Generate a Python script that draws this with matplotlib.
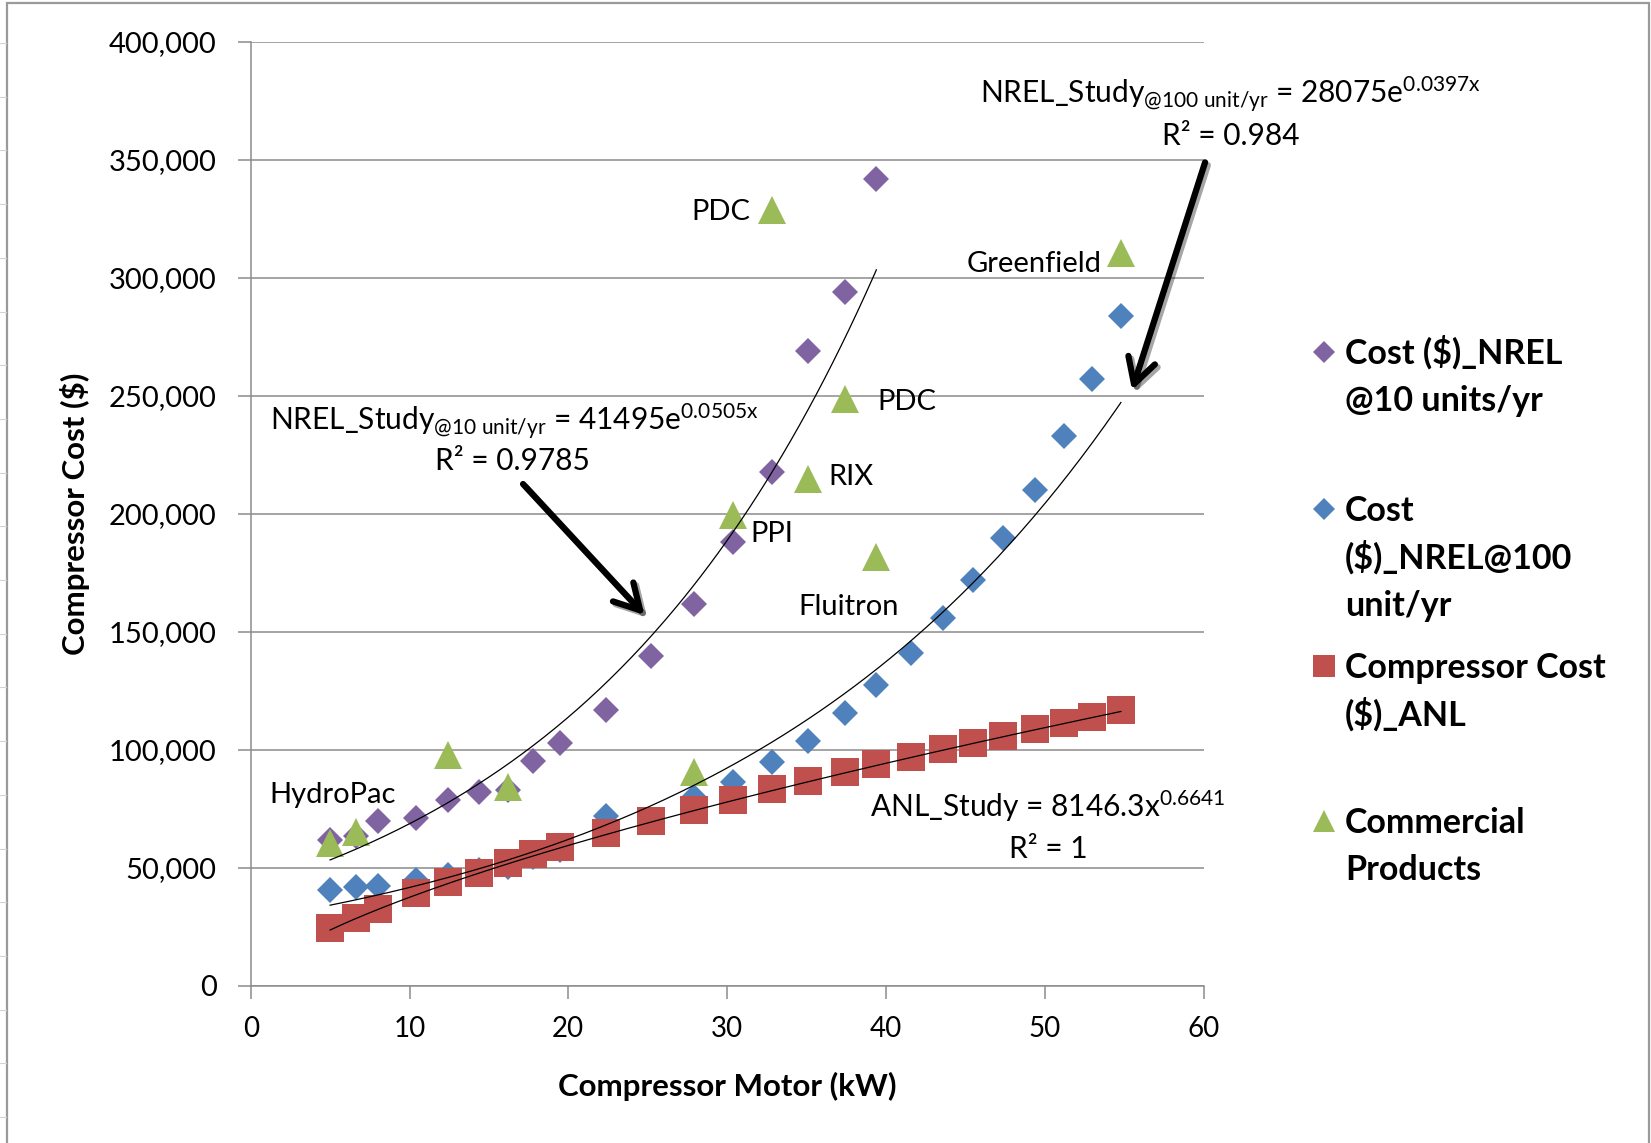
import numpy as np
import matplotlib
matplotlib.use("Agg")
import matplotlib.pyplot as plt
from matplotlib.lines import Line2D
from matplotlib.patches import Rectangle
from matplotlib.ticker import FuncFormatter, MultipleLocator
import matplotlib.patheffects as pe

plt.rcParams["font.family"] = ["Lato", "DejaVu Sans"]
plt.rcParams["mathtext.fontset"] = "custom"
plt.rcParams["mathtext.rm"] = "Lato"
plt.rcParams["mathtext.it"] = "Lato:italic"
plt.rcParams["mathtext.bf"] = "Lato:bold"

# ---- data -------------------------------------------------------------
motor_kw = [5.0, 6.6, 8.0, 10.4, 12.4, 14.4, 16.2, 17.8, 19.5, 22.4, 25.2, 27.9,
            30.4, 32.8, 35.1, 37.4, 39.4, 41.6, 43.6, 45.5, 47.4, 49.4, 51.2,
            53.0, 54.8]

cost_nrel_10 = [62000, 63500, 70000, 71000, 79000, 82000, 83000, 95500, 103000,
                117000, 140000, 162000, 188000, 218000, 269000, 294000, 342000]

cost_nrel_100 = [40700, 42000, 42400, 45000, 47200, 49300, 50400, 54700, 57800,
                 72000, 70000, 80000, 86600, 95000, 103700, 115500, 127500,
                 141000, 156000, 172000, 190000, 210000, 233000, 257000, 284000]

cost_anl = [24400, 28700, 32500, 39300, 44200, 48000, 52200, 55900, 59000, 65000,
            70000, 74600, 78800, 83300, 87000, 90800, 94100, 97200, 100300,
            103100, 105900, 108800, 111300, 114100, 117000]

commercial_kw = [5.0, 6.6, 12.4, 16.2, 27.9, 30.4, 32.8, 35.1, 37.4, 39.4, 54.8]
commercial_cost = [60600, 65400, 97900, 84200, 90500, 199600, 329000, 215000,
                   248600, 181600, 310500]

# fitted trend lines (coefficients as printed on the chart)
fit10_a, fit10_b = 41495, 0.0505
fit100_a, fit100_b = 28075, 0.0397
anl_a, anl_b = 8146.3, 0.6641

# product labels: (text, x, baseline y, alignment)
product_labels = [
    ("HydroPac", 1.2, 77400, "left"),
    ("PDC", 31.45, 324600, "right"),
    ("PDC", 39.45, 244000, "left"),
    ("RIX", 36.4, 212300, "left"),
    ("PPI", 31.45, 188300, "left"),
    ("Fluitron", 34.5, 157200, "left"),
    ("Greenfield", 53.6, 302700, "right"),
]

# ---- colours ------------------------------------------------------------
PURPLE = "#8064A2"
BLUE = "#4F81BD"
RED = "#C0504D"
GREEN = "#9BBB59"
GRID = "#8C8C8C"

W, H = 1651, 1143
fig = plt.figure(figsize=(W / 100, H / 100), dpi=100)
ax = fig.add_axes([250.7 / W, 1 - 986 / H, 952.8 / W, 944 / H])


def fx(px):
    return px / W


def fy(py):
    return 1 - py / H


# outer frame and spreadsheet cell lines
fig.add_artist(Rectangle((fx(7), fy(1160)), fx(1649) - fx(7), fy(3) - fy(1160),
                         transform=fig.transFigure, fill=False,
                         edgecolor="#9A9A9A", lw=1.6))
for py in np.arange(43, 1143, 53.7):
    fig.add_artist(Line2D([0, fx(6)], [fy(py), fy(py)], transform=fig.transFigure,
                          color="#D4D4D4", lw=0.8))

# ---- series -------------------------------------------------------------
x = np.array(motor_kw)
ax.plot(x[:len(cost_nrel_10)], cost_nrel_10, ls="none", marker="D", ms=13.5,
        mew=0, color=PURPLE, zorder=3)
ax.plot(x, cost_nrel_100, ls="none", marker="D", ms=13.0, mew=0, color=BLUE,
        zorder=3)
ax.plot(x, cost_anl, ls="none", marker="s", ms=19.5, mew=0, color=RED, zorder=4)
ax.plot(commercial_kw, commercial_cost, ls="none", marker="^", ms=19.5, mew=0,
        color=GREEN, zorder=5)

# trend lines
t10 = np.linspace(x[0], x[len(cost_nrel_10) - 1], 200)
ax.plot(t10, fit10_a * np.exp(fit10_b * t10), color="black", lw=0.9, zorder=6)
t100 = np.linspace(x[0], x[-1], 200)
ax.plot(t100, fit100_a * np.exp(fit100_b * t100), color="black", lw=0.9, zorder=6)
ax.plot(t100, anl_a * t100 ** anl_b, color="black", lw=0.9, zorder=6)

# ---- axes styling -------------------------------------------------------
ax.set_xlim(0, 60)
ax.set_ylim(0, 400000)
ax.xaxis.set_major_locator(MultipleLocator(10))
ax.yaxis.set_major_locator(MultipleLocator(50000))
ax.yaxis.set_major_formatter(FuncFormatter(lambda v, p: f"{v:,.0f}"))
ax.grid(axis="y", color=GRID, lw=1.1)
ax.set_axisbelow(True)
for s in ("top", "right"):
    ax.spines[s].set_visible(False)
for s in ("left", "bottom"):
    ax.spines[s].set_color(GRID)
    ax.spines[s].set_linewidth(1.1)
ax.tick_params(axis="both", direction="out", length=9.5, width=1.1, color=GRID)
ax.tick_params(axis="y", pad=15, labelsize=21)
ax.tick_params(axis="x", pad=12, labelsize=20)

ax.set_xlabel("Compressor Motor (kW)", fontsize=22.5, fontweight="bold", va="center")
ax.xaxis.set_label_coords(0.5, (986 - 1086.7) / 944)
ax.set_ylabel("Compressor Cost ($)", fontsize=22.5, fontweight="bold", va="center")
ax.yaxis.set_label_coords((75 - 250.7) / 952.8, 0.5)

# ---- annotations --------------------------------------------------------
for txt, tx, ty, ha in product_labels:
    ax.text(tx, ty, txt, fontsize=21, ha=ha, va="baseline", zorder=7)

eq_kw = dict(fontsize=21.5, ha="center", va="baseline", zorder=7)
ax.text(16.6, 235600,
        r"NREL_Study$_{\mathregular{@10\ unit/yr}}$ = 41495e$^{\mathregular{0.0505x}}$",
        **eq_kw)
ax.text(16.5, 218600, "R² = 0.9785", **eq_kw)
ax.text(61.7, 374000,
        r"NREL_Study$_{\mathregular{@100\ unit/yr}}$ = 28075e$^{\mathregular{0.0397x}}$",
        **eq_kw)
ax.text(61.7, 356400, "R² = 0.984", **eq_kw)
ax.text(50.2, 71700, r"ANL_Study = 8146.3x$^{\mathregular{0.6641}}$", **eq_kw)
ax.text(50.2, 54100, "R² = 1", **eq_kw)

arrow_kw = dict(arrowstyle="->,head_length=0.9,head_width=0.5", lw=4.5,
                color="black", mutation_scale=20, shrinkA=0, shrinkB=0,
                path_effects=[pe.SimpleLineShadow(offset=(2, -2), alpha=0.35),
                              pe.Normal()])
ax.annotate("", xy=(24.8, 157200), xytext=(17.15, 212700), arrowprops=arrow_kw,
            annotation_clip=False, zorder=8)
ax.annotate("", xy=(55.5, 252500), xytext=(60.1, 349000), arrowprops=arrow_kw,
            annotation_clip=False, zorder=8)

# ---- legend (drawn entry by entry) --------------------------------------
legend_entries = [
    ("D", PURPLE, 11.0, 351.5, ["Cost ($)_NREL", "@10 units/yr"]),
    ("D", BLUE, 11.0, 509.0, ["Cost", "($)_NREL@100", "unit/yr"]),
    ("s", RED, 16.0, 666.0, ["Compressor Cost", "($)_ANL"]),
    ("^", GREEN, 16.0, 821.0, ["Commercial", "Products"]),
]
for marker, color, ms, ycen, lines in legend_entries:
    fig.add_artist(Line2D([fx(1324)], [fy(ycen)], transform=fig.transFigure,
                          marker=marker, ms=ms, mew=0, color=color, ls="none"))
    for i, line in enumerate(lines):
        fig.text(fx(1345), fy(ycen + 12 + i * 47.5), line, fontsize=24.5,
                 fontweight="bold", ha="left", va="baseline")

fig.savefig("out.png", dpi=100, facecolor="white")
